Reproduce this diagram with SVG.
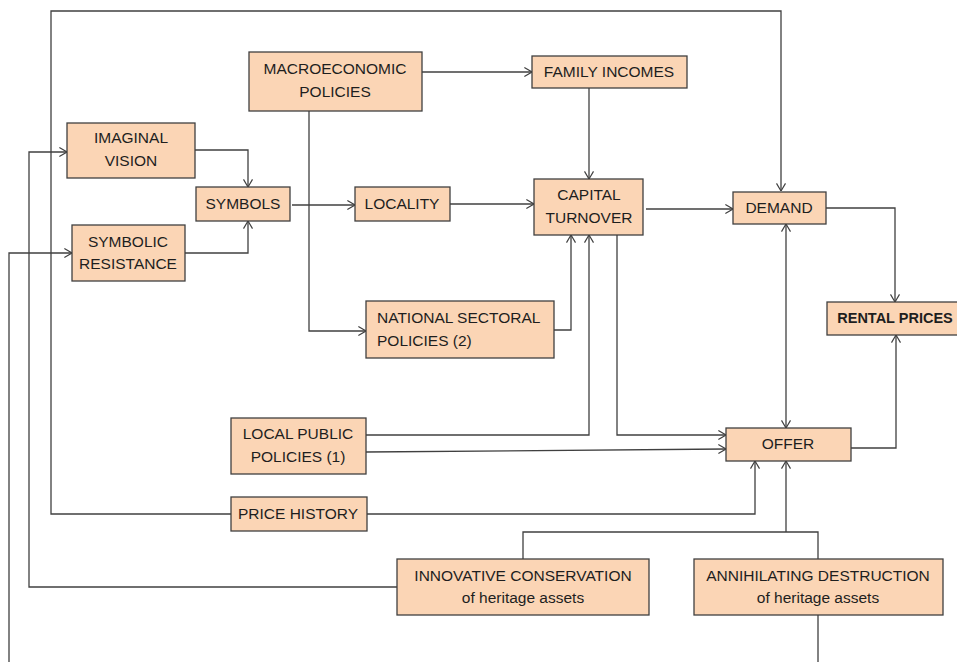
<svg xmlns="http://www.w3.org/2000/svg" width="957" height="662" viewBox="0 0 957 662">
<style>
.box{fill:#FBD5B5;stroke:#404040;stroke-width:1.3}
.t{font-family:"Liberation Sans",Arial,sans-serif;font-size:15.5px;fill:#1e1e1e;text-anchor:middle}
.l{text-anchor:start}
.b{font-weight:bold;font-size:14.5px}
.c{fill:none;stroke:#404040;stroke-width:1.3}
.a{marker-end:url(#arr)}
.s{marker-start:url(#arrs)}
</style>
<defs>
<marker id="arr" markerUnits="userSpaceOnUse" viewBox="0 0 10 12" markerWidth="9" markerHeight="11" refX="9.5" refY="6" orient="auto">
<path d="M1,1 L9.5,6 L1,11" fill="none" stroke="#404040" stroke-width="1.3"/>
</marker>
<marker id="arrs" markerUnits="userSpaceOnUse" viewBox="0 0 10 12" markerWidth="9" markerHeight="11" refX="0.5" refY="6" orient="auto">
<path d="M9,1 L0.5,6 L9,11" fill="none" stroke="#404040" stroke-width="1.3"/>
</marker>
</defs>
<g id="connectors">
<path class="c a" d="M231,514 H51 V11 H781 V191"/>
<path class="c a" d="M422,72 H532"/>
<path class="c a" d="M309,111 V331 H366"/>
<path class="c a" d="M589,88 V179"/>
<path class="c a" d="M195,150 H248 V187"/>
<path class="c a" d="M185,253 H248 V221"/>
<path class="c a" d="M292,205 H355"/>
<path class="c a" d="M450,204 H534"/>
<path class="c a" d="M646,209 H733"/>
<path class="c a" d="M826,208 H895 V302"/>
<path class="c a" d="M554,330 H571 V235"/>
<path class="c a" d="M365,435 H589 V235"/>
<path class="c a" d="M617,235 V435 H726"/>
<path class="c a" d="M366,452 L726,449"/>
<path class="c a s" d="M786,224 V428"/>
<path class="c a" d="M848,448 H896 V335"/>
<path class="c a" d="M367,514 H755 V461"/>
<path class="c" d="M523,559 V532 H818 V559"/>
<path class="c a" d="M786,532 V461"/>
<path class="c a" d="M397,587 H29 V152 H67"/>
<path class="c a" d="M818,615 V690 H9 V253 H72"/>
</g>
<g id="macro"><rect class="box" x="249" y="52" width="173" height="59"/><text class="t" x="335" y="74">MACROECONOMIC</text><text class="t" x="335" y="97">POLICIES</text></g>
<g id="family"><rect class="box" x="532" y="56" width="155" height="32"/><text class="t" x="609" y="77">FAMILY INCOMES</text></g>
<g id="imaginal"><rect class="box" x="67" y="123" width="128" height="55"/><text class="t" x="131" y="143">IMAGINAL</text><text class="t" x="131" y="166">VISION</text></g>
<g id="symbols"><rect class="box" x="196" y="187" width="94" height="34"/><text class="t" x="243" y="209">SYMBOLS</text></g>
<g id="symbolic"><rect class="box" x="72" y="225" width="113" height="56"/><text class="t" x="128" y="247">SYMBOLIC</text><text class="t" x="128" y="269">RESISTANCE</text></g>
<g id="locality"><rect class="box" x="355" y="187" width="95" height="34"/><text class="t" x="402" y="209">LOCALITY</text></g>
<g id="capital"><rect class="box" x="534" y="179" width="109" height="56"/><text class="t" x="589" y="200">CAPITAL</text><text class="t" x="589" y="223">TURNOVER</text></g>
<g id="demand"><rect class="box" x="733" y="192" width="93" height="32"/><text class="t" x="779" y="213">DEMAND</text></g>
<g id="rental"><rect class="box" x="827" y="302" width="140" height="33"/><text class="t b" x="895" y="323">RENTAL PRICES</text></g>
<g id="national"><rect class="box" x="366" y="301" width="188" height="57"/><text class="t l" x="377" y="323">NATIONAL SECTORAL</text><text class="t l" x="377" y="346">POLICIES (2)</text></g>
<g id="localpublic"><rect class="box" x="231" y="418" width="135" height="56"/><text class="t" x="298" y="439">LOCAL PUBLIC</text><text class="t" x="298" y="462">POLICIES (1)</text></g>
<g id="offer"><rect class="box" x="726" y="428" width="125" height="33"/><text class="t" x="788" y="449">OFFER</text></g>
<g id="pricehistory"><rect class="box" x="231" y="497" width="136" height="34"/><text class="t" x="298" y="519">PRICE HISTORY</text></g>
<g id="innovative"><rect class="box" x="397" y="559" width="252" height="56"/><text class="t" x="523" y="581">INNOVATIVE CONSERVATION</text><text class="t" x="523" y="603">of heritage assets</text></g>
<g id="annihilating"><rect class="box" x="694" y="559" width="249" height="56"/><text class="t" x="818" y="581">ANNIHILATING DESTRUCTION</text><text class="t" x="818" y="603">of heritage assets</text></g>
</svg>
